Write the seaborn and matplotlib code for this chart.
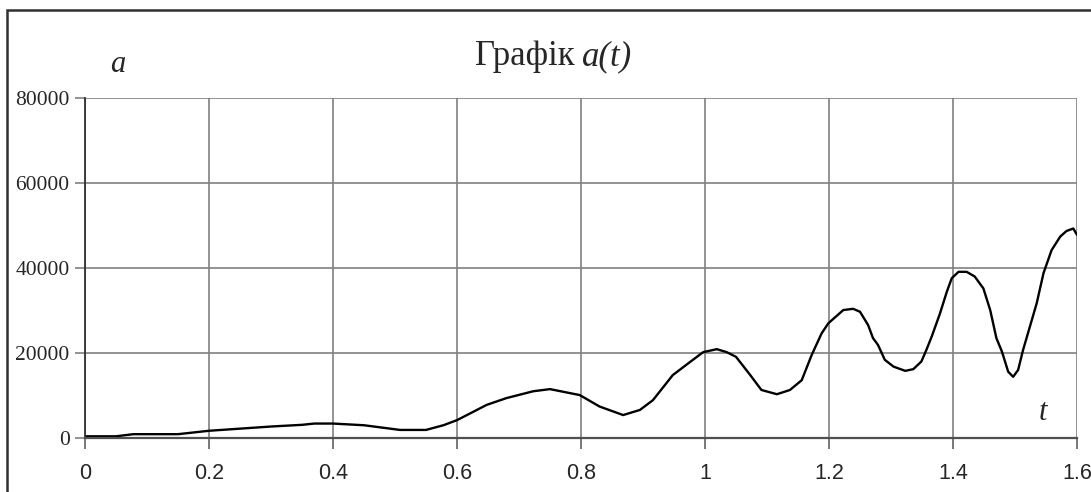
#!/usr/bin/env python
# -*- coding: utf-8 -*-

import pandas as pd
import seaborn as sns
import matplotlib.pyplot as plt
from matplotlib.patches import Rectangle

# values
t_values = [0, 0.05, 0.078, 0.15, 0.2, 0.25, 0.3, 0.35, 0.37, 0.4,
            0.45, 0.508, 0.55, 0.578, 0.6, 0.648, 0.68, 0.723, 0.75, 0.798,
            0.83, 0.868, 0.895, 0.916, 0.948, 0.976, 0.997, 1.019, 1.035, 1.05,
            1.073, 1.091, 1.116, 1.137, 1.156, 1.172, 1.188, 1.199, 1.223, 1.239,
            1.25, 1.263, 1.271, 1.279, 1.29, 1.304, 1.323, 1.336, 1.349, 1.357,
            1.366, 1.379, 1.39, 1.398, 1.409, 1.422, 1.435, 1.449, 1.46, 1.47,
            1.479, 1.489, 1.497, 1.505, 1.513, 1.524, 1.535, 1.546, 1.559, 1.573,
            1.583, 1.594, 1.6]
a_values = [400, 400, 900, 900, 1700, 2200, 2700, 3100, 3400, 3400,
            3000, 1900, 1900, 3000, 4200, 7800, 9400, 11000, 11500, 10100,
            7400, 5400, 6600, 8900, 14800, 17900, 20200, 20900, 20200, 19100,
            14800, 11300, 10300, 11300, 13600, 19500, 24600, 27000, 30100, 30400,
            29700, 26600, 23500, 21900, 18400, 16800, 15800, 16200, 18000, 20700,
            24000, 29300, 34400, 37600, 39100, 39100, 38000, 35200, 30100, 23500,
            20300, 15600, 14400, 16000, 20700, 26200, 31700, 38800, 44200, 47400,
            48700, 49300, 47800]

x_ticks = [0, 0.2, 0.4, 0.6, 0.8, 1.0, 1.2, 1.4, 1.6]
x_tick_labels = ['0', '0.2', '0.4', '0.6', '0.8', '1', '1.2', '1.4', '1.6']
y_ticks = [0, 20000, 40000, 60000, 80000]

df = pd.DataFrame({'t': t_values, 'a': a_values})

sns.set_style('white')

fig = plt.figure(figsize=(10.91, 4.92), dpi=100)
ax = fig.add_axes([85 / 1091, 1 - 438 / 492, 992 / 1091, 340 / 492])

sns.lineplot(data=df, x='t', y='a', ax=ax, color='black', linewidth=1.7,
             sort=False, solid_joinstyle='round', solid_capstyle='round')

ax.set_xlim(0, 1.6)
ax.set_ylim(0, 80000)
ax.set_xticks(x_ticks)
ax.set_xticklabels(x_tick_labels, family='Liberation Sans', fontsize=15.5)
ax.set_yticks(y_ticks)
ax.set_yticklabels([str(v) for v in y_ticks], family='Liberation Serif',
                   fontsize=15.5)
ax.set_xlabel('')
ax.set_ylabel('')

ax.grid(True, color='#808080', linewidth=1.2)
ax.tick_params(axis='x', direction='out', length=8, width=1.2,
               color='#606060', pad=10, bottom=True)
ax.tick_params(axis='y', direction='out', length=7, width=1.2,
               color='#808080', pad=4, left=True)

for side in ['top', 'right']:
    ax.spines[side].set_visible(False)
ax.spines['left'].set_color('#303030')
ax.spines['left'].set_linewidth(1.3)
ax.spines['bottom'].set_color('#505050')
ax.spines['bottom'].set_linewidth(1.6)

# title with italic part
fig.text(575 / 1091, 1 - 65 / 492, 'Графік', family='Liberation Serif',
         fontsize=25, ha='right', va='baseline')
fig.text(582 / 1091, 1 - 65 / 492, 'a(t)', family='Liberation Serif',
         style='italic', fontsize=25, ha='left', va='baseline')

# axis names
fig.text(118 / 1091, 1 - 64 / 492, 'a', family='Liberation Serif',
         style='italic', fontsize=22, ha='center', va='center')
fig.text(1043 / 1091, 1 - 413 / 492, 't', family='Liberation Serif',
         style='italic', fontsize=22, ha='center', va='center')

# chart area border
fig.patches.append(Rectangle((7 / 1091, -0.1), 1.1, 1.1 - 10 / 492,
                             transform=fig.transFigure, fill=False,
                             edgecolor='#303030', linewidth=1.8))

plt.savefig('out.png', dpi=100)
